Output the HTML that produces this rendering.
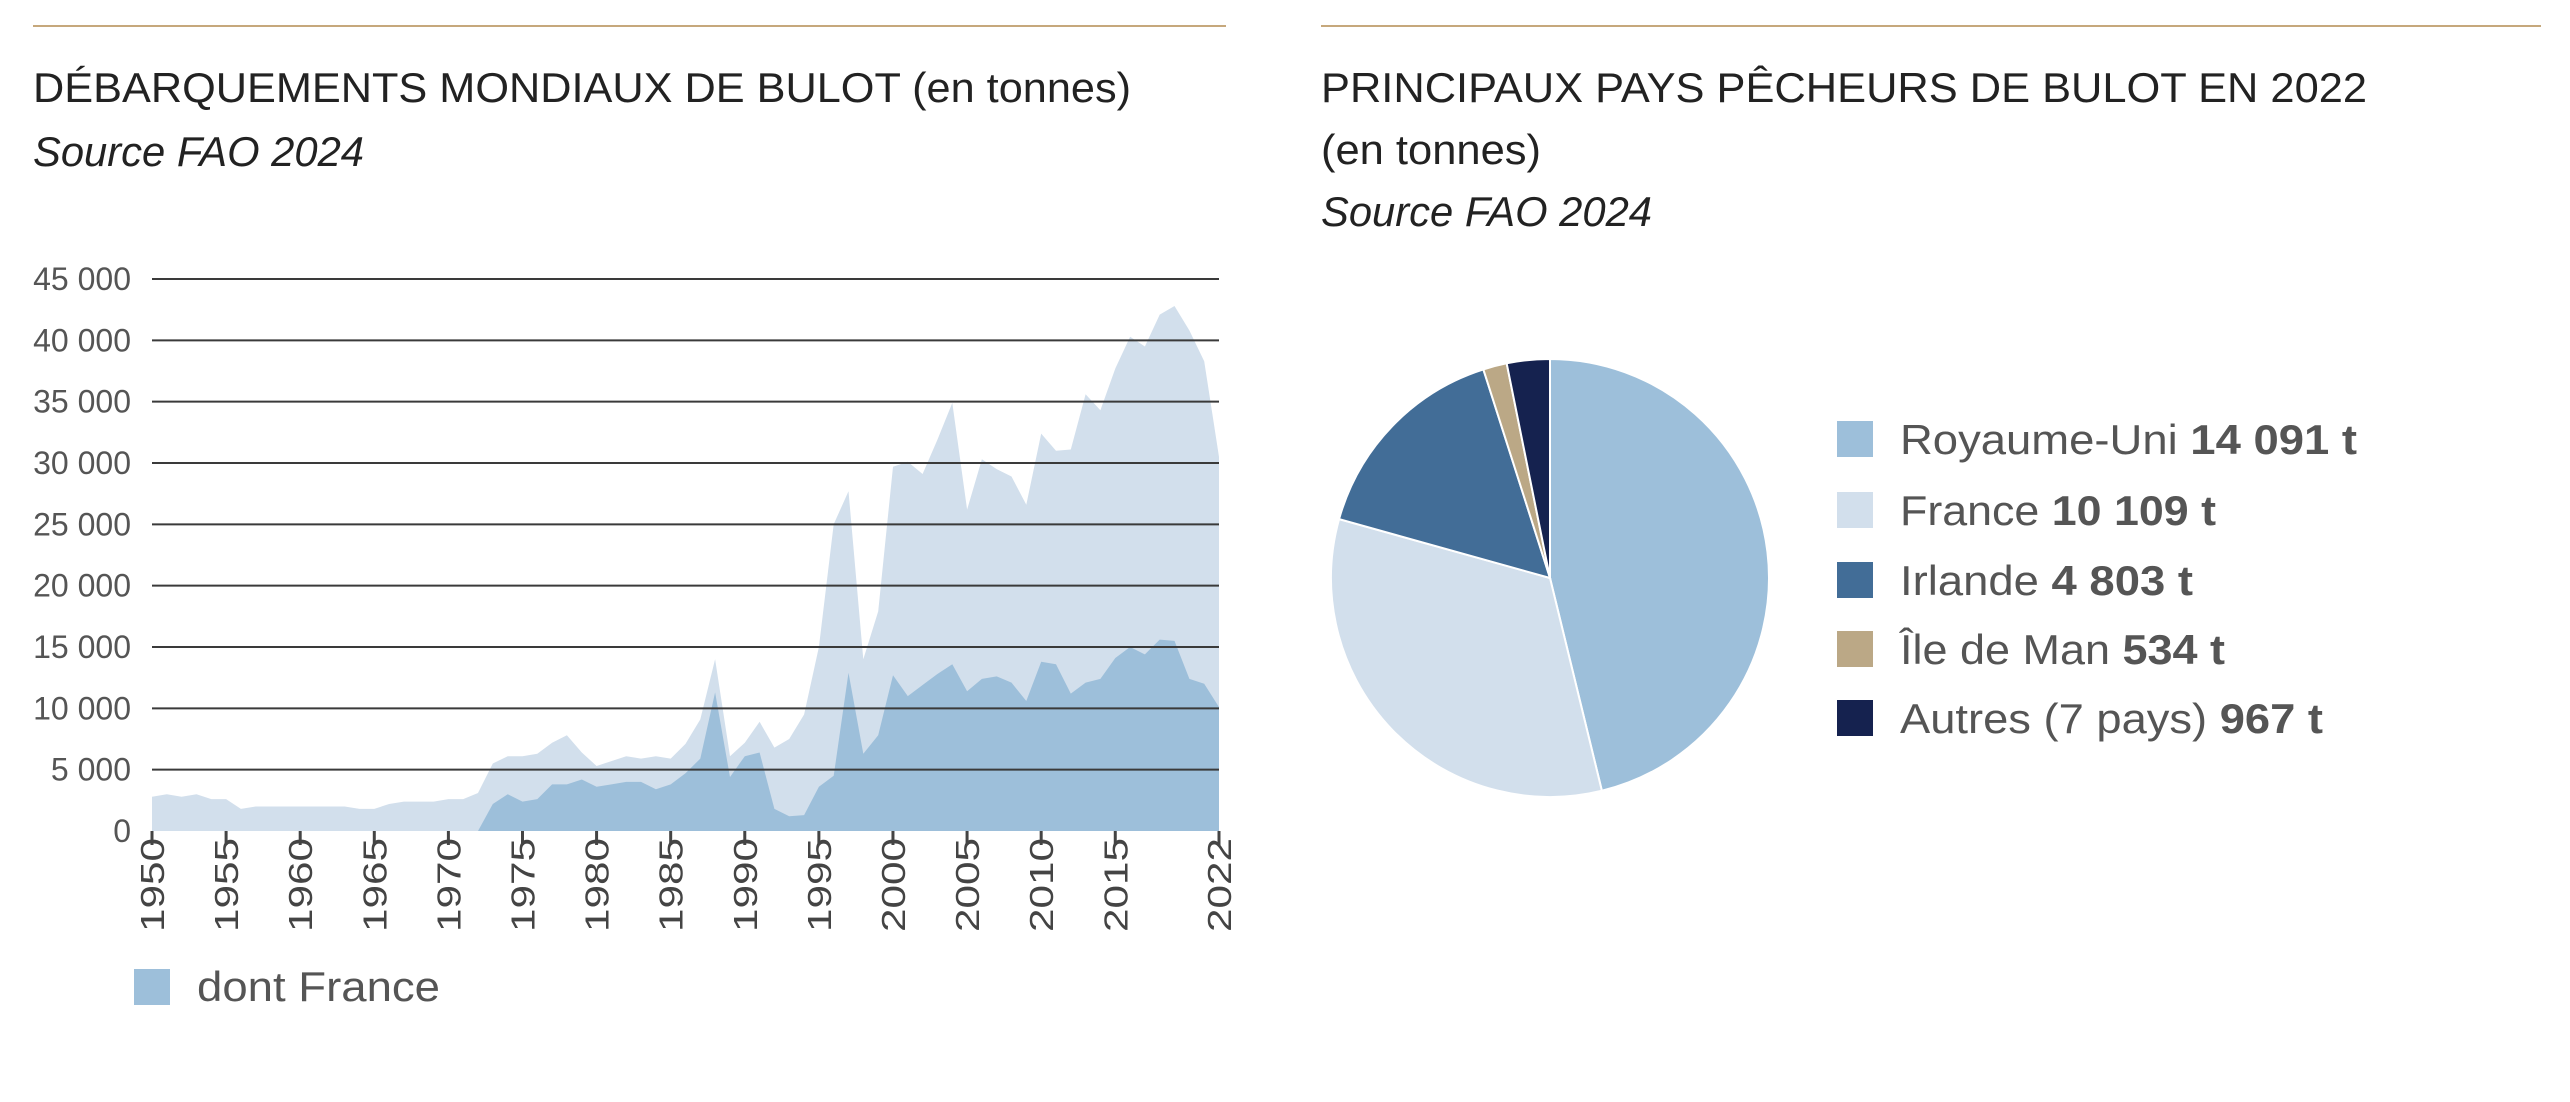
<!DOCTYPE html>
<html><head><meta charset="utf-8">
<style>
html,body{margin:0;padding:0;background:#fff;}
svg{display:block;font-family:"Liberation Sans",sans-serif;}
</style></head>
<body>
<svg id="c" width="2570" height="1102" viewBox="0 0 2570 1102" xmlns="http://www.w3.org/2000/svg">
<line x1="33" y1="26" x2="1226" y2="26" stroke="#c6a87c" stroke-width="2"/>
<line x1="1321" y1="26" x2="2541" y2="26" stroke="#c6a87c" stroke-width="2"/>
<text x="33" y="102" font-size="42" fill="#222" textLength="1098" lengthAdjust="spacingAndGlyphs">DÉBARQUEMENTS MONDIAUX DE BULOT (en tonnes)</text>
<text x="33" y="166" font-size="42" font-style="italic" fill="#222" textLength="331" lengthAdjust="spacingAndGlyphs">Source FAO 2024</text>
<text x="1321" y="102" font-size="42" fill="#222" textLength="1046" lengthAdjust="spacingAndGlyphs">PRINCIPAUX PAYS PÊCHEURS DE BULOT EN 2022</text>
<text x="1321" y="164" font-size="42" fill="#222" textLength="220" lengthAdjust="spacingAndGlyphs">(en tonnes)</text>
<text x="1321" y="226" font-size="42" font-style="italic" fill="#222" textLength="331" lengthAdjust="spacingAndGlyphs">Source FAO 2024</text>
<g id="area"></g>
<g id="pie"></g>
<rect x="134" y="969" width="36" height="36" fill="#9dbfda"/>
<text x="197" y="1001" font-size="42" fill="#555" textLength="243" lengthAdjust="spacingAndGlyphs">dont France</text>
</svg>
<script>
const years = [];
for (let y = 1950; y <= 2022; y++) years.push(y);
const totalValues = [2800,3000,2800,3000,2600,2600,1800,2000,2000,2000,2000,2000,2000,2000,1800,1800,2200,2400,2400,2400,2600,2600,3100,5500,6100,6100,6300,7200,7800,6400,5300,5700,6100,5900,6100,5900,7100,9100,14000,6100,7200,8900,6800,7500,9500,15000,25000,27700,14000,17900,29700,30100,29100,31900,34900,26200,30300,29500,28900,26600,32400,31000,31100,35600,34300,37700,40300,39500,42100,42800,40800,38300,30500];
const franceValues = [0,0,0,0,0,0,0,0,0,0,0,0,0,0,0,0,0,0,0,0,0,0,0,2200,3000,2400,2600,3800,3800,4200,3600,3800,4000,4000,3400,3800,4700,5900,11300,4400,6100,6400,1800,1200,1300,3600,4500,12900,6300,7800,12700,11000,11900,12800,13600,11400,12400,12600,12100,10600,13800,13600,11200,12100,12400,14100,15000,14400,15600,15500,12400,12000,10100];
const yTicks = [0,5000,10000,15000,20000,25000,30000,35000,40000,45000];
const yTickLabels = ["0","5 000","10 000","15 000","20 000","25 000","30 000","35 000","40 000","45 000"];
const xTicks = [1950,1955,1960,1965,1970,1975,1980,1985,1990,1995,2000,2005,2010,2015,2022];

const pieLabels = ["Royaume-Uni","France","Irlande","Île de Man","Autres (7 pays)"];
const pieValues = [14091,10109,4803,534,967];
const pieValueLabels = ["14 091 t","10 109 t","4 803 t","534 t","967 t"];
const pieColors = ["#9dbfda","#d2dfec","#426d97","#bba886","#15224f"];

const NS = "http://www.w3.org/2000/svg";
function mk(tag, attrs, parent){const e=document.createElementNS(NS,tag);for(const k in attrs)e.setAttribute(k,attrs[k]);parent.appendChild(e);return e;}
const X0=152,X1=1219,Y0=831,Y1=279;
const xs = y => X0 + (y-1950)/(2022-1950)*(X1-X0);
const ys = v => Y0 - v/45000*(Y0-Y1);
const area = document.getElementById('area');

function areaPath(vals){
  let d = "M"+xs(years[0])+","+Y0;
  vals.forEach((v,i)=>{ d += " L"+xs(years[i]).toFixed(1)+","+ys(v).toFixed(1); });
  d += " L"+xs(years[years.length-1])+","+Y0+" Z";
  return d;
}
const pt = mk('path',{d:areaPath(totalValues),fill:'#d2dfec'},area);


const pf = mk('path',{d:areaPath(franceValues),fill:'#9dbfda'},area);



yTicks.forEach((v,i)=>{
  if (v>0){
    const g = mk('line',{x1:X0,x2:X1,y1:ys(v),y2:ys(v),stroke:'#3a3a3a','stroke-width':2},area);
    
    
  }
  const t = mk('text',{x:131,y:ys(v)+11,'font-size':32,fill:'#555','text-anchor':'end'},area);
  
  
  t.textContent = yTickLabels[i];
});
xTicks.forEach(y=>{
  const x = xs(y);
  const tk = mk('line',{x1:x,x2:x,y1:Y0,y2:845,stroke:'#444','stroke-width':3},area);
  
  
  const t = mk('text',{x:0,y:0,'font-size':33,fill:'#444','text-anchor':'end',transform:'translate('+(x+12)+',838) rotate(-90)',textLength:94,lengthAdjust:'spacingAndGlyphs'},area);
  
  
  t.textContent = String(y);
});

// pie
const pie = document.getElementById('pie');
const cx=1550, cy=578, r=219;
const total = pieValues.reduce((a,b)=>a+b,0);
let acc = 0;
pieValues.forEach((v,i)=>{
  const a0 = acc/total*2*Math.PI, a1=(acc+v)/total*2*Math.PI; acc+=v;
  const x0=cx+r*Math.sin(a0), y0=cy-r*Math.cos(a0), x1=cx+r*Math.sin(a1), y1=cy-r*Math.cos(a1);
  const large = (a1-a0)>Math.PI?1:0;
  const p = mk('path',{d:`M${cx},${cy} L${x0},${y0} A${r},${r} 0 ${large} 1 ${x1},${y1} Z`,fill:pieColors[i],stroke:'#fff','stroke-width':2},pie);
  
  
});
const legY=[439,510,580,649,718];
const legW=[457,316,293,325,423];
pieLabels.forEach((lab,i)=>{
  const s = mk('rect',{x:1837,y:legY[i]-18,width:36,height:36,fill:pieColors[i]},pie);
  
  
  const t = mk('text',{x:1900,y:legY[i]+15,'font-size':42,fill:'#555',textLength:legW[i],lengthAdjust:'spacingAndGlyphs'},pie);
  
  
  const a = mk('tspan',{},t); a.textContent = lab+" ";
  const b = mk('tspan',{'font-weight':'bold'},t); b.textContent = pieValueLabels[i];
});
</script>
</body></html>
